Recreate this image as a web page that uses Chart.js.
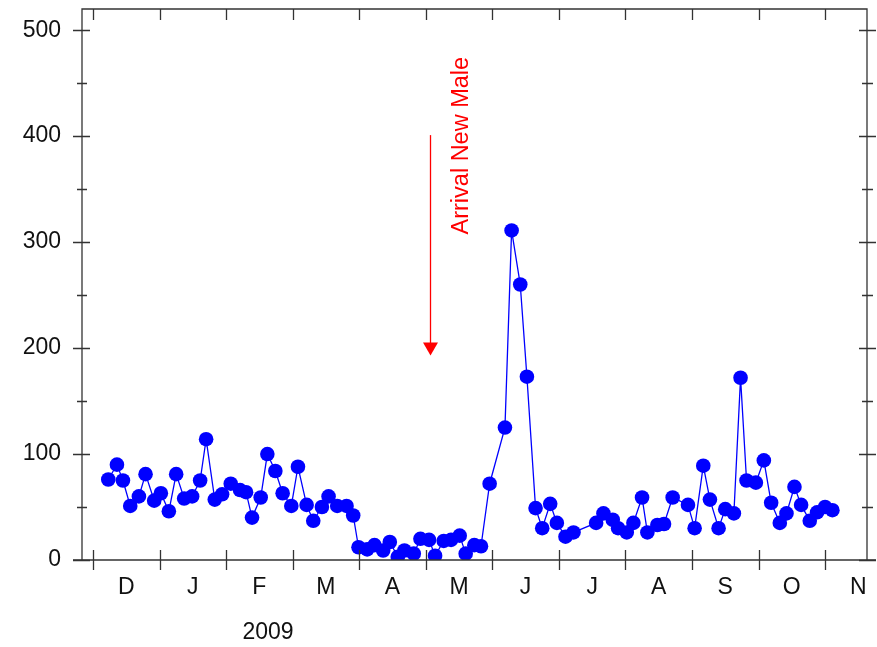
<!DOCTYPE html>
<html>
<head>
<meta charset="utf-8">
<title>Counts 2008-2009</title>
<script src="https://cdn.jsdelivr.net/npm/chart.js@4.4.1/dist/chart.umd.min.js"></script>
<style>
  body { margin: 0; background: #fff; }
  #wrap { width: 877px; height: 647px; }
</style>
</head>
<body>
<div id="wrap"><canvas id="countChart"></canvas></div>
<script>
// Sampling times, in months counted from 1 December 2008
const sampleMonths = [
  0.23, 0.36, 0.45, 0.56, 0.69, 0.79, 0.92, 1.02, 1.14, 1.25,
  1.37, 1.49, 1.61, 1.70, 1.83, 1.94, 2.07, 2.21, 2.30, 2.39,
  2.52, 2.62, 2.74, 2.85, 2.98, 3.08, 3.21, 3.31, 3.44, 3.54,
  3.67, 3.81, 3.91, 3.99, 4.12, 4.23, 4.36, 4.46, 4.58, 4.68,
  4.82, 4.92, 5.05, 5.14, 5.27, 5.38, 5.51, 5.60, 5.73, 5.83,
  5.96, 6.19, 6.29, 6.42, 6.52, 6.65, 6.75, 6.87, 6.97, 7.10,
  7.22, 7.56, 7.67, 7.81, 7.89, 8.02, 8.12, 8.25, 8.33, 8.48,
  8.58, 8.71, 8.94, 9.04, 9.17, 9.27, 9.40, 9.50, 9.63, 9.73,
  9.82, 9.96, 10.08, 10.19, 10.32, 10.42, 10.54, 10.64, 10.77, 10.88,
  11.00, 11.11
];
const counts = [
  76, 90, 75, 51, 60, 81, 56, 63, 46, 81,
  58, 60, 75, 114, 57, 62, 72, 66, 64, 40,
  59, 100, 84, 63, 51, 88, 52, 37, 50, 60,
  51, 51, 42, 12, 10, 14, 9, 17, 3, 9,
  6, 20, 19, 4, 18, 19, 23, 6, 14, 13,
  72, 125, 311, 260, 173, 49, 30, 53, 35, 22,
  26, 35, 44, 38, 30, 26, 35, 59, 26, 33,
  34, 59, 52, 30, 89, 57, 30, 48, 44, 172,
  75, 73, 94, 54, 35, 44, 69, 52, 37, 45,
  50, 47
];
const monthLabels = ['D', 'J', 'F', 'M', 'A', 'M', 'J', 'J', 'A', 'S', 'O', 'N'];
const yTicks = [0, 100, 200, 300, 400, 500];
const yMinorTicks = [50, 150, 250, 350, 450];
const yearLabel = '2009';

// arrow marking the arrival of the new male
const arrivalText = 'Arrival New Male';
const arrivalMonth = 5.06;
const arrivalTop = 401;
const arrivalTip = 193;

const FONT = '"Liberation Sans", Arial, sans-serif';
const INK = '#111';
const RED = '#ff0000';

const framePlugin = {
  id: 'frame',
  afterDraw(chart) {
    const { ctx, chartArea: a, scales: { x, y } } = chart;
    ctx.save();
    ctx.strokeStyle = '#333';
    ctx.lineWidth = 1.3;

    // box
    ctx.beginPath();
    ctx.moveTo(a.left, a.bottom);
    ctx.lineTo(a.left, a.top);
    ctx.lineTo(a.right, a.top);
    ctx.lineTo(a.right, a.bottom);
    ctx.moveTo(a.left - 9, a.bottom);
    ctx.lineTo(a.right + 9, a.bottom);
    ctx.stroke();

    // month boundaries: crossing ticks at the bottom, inward ticks at the top
    ctx.beginPath();
    for (let m = 0; m < monthLabels.length; m++) {
      const px = Math.round(x.getPixelForValue(m)) + 0.5;
      ctx.moveTo(px, a.bottom - 10);
      ctx.lineTo(px, a.bottom + 10);
      ctx.moveTo(px, a.top);
      ctx.lineTo(px, a.top + 11);
    }
    // value ticks on both sides
    yTicks.forEach(v => {
      const py = Math.round(y.getPixelForValue(v)) + 0.5;
      ctx.moveTo(a.left - 9, py);
      ctx.lineTo(a.left + 8, py);
      ctx.moveTo(a.right - 8, py);
      ctx.lineTo(a.right + 9, py);
    });
    yMinorTicks.forEach(v => {
      const py = Math.round(y.getPixelForValue(v)) + 0.5;
      ctx.moveTo(a.left - 5, py);
      ctx.lineTo(a.left + 5, py);
      ctx.moveTo(a.right - 5, py);
      ctx.lineTo(a.right + 6, py);
    });
    ctx.stroke();

    // year under the month letters
    ctx.fillStyle = INK;
    ctx.font = '23px ' + FONT;
    ctx.textAlign = 'center';
    ctx.textBaseline = 'middle';
    ctx.fillText(yearLabel, x.getPixelForValue(2.63), a.bottom + 73);

    // arrival arrow
    const ax = Math.round(x.getPixelForValue(arrivalMonth)) + 0.5;
    const yTop = y.getPixelForValue(arrivalTop);
    const yTip = y.getPixelForValue(arrivalTip);
    ctx.strokeStyle = RED;
    ctx.fillStyle = RED;
    ctx.lineWidth = 1.3;
    ctx.beginPath();
    ctx.moveTo(ax, yTop);
    ctx.lineTo(ax, yTip - 12);
    ctx.stroke();
    ctx.beginPath();
    ctx.moveTo(ax - 7.5, yTip - 13);
    ctx.lineTo(ax + 7.5, yTip - 13);
    ctx.lineTo(ax, yTip);
    ctx.closePath();
    ctx.fill();

    ctx.translate(x.getPixelForValue(5.54), y.getPixelForValue(391));
    ctx.rotate(-Math.PI / 2);
    ctx.font = '23.5px ' + FONT;
    ctx.fillText(arrivalText, 0, 0);
    ctx.restore();
  }
};

const points = sampleMonths.map((m, i) => ({ x: m, y: counts[i] }));

new Chart(document.getElementById('countChart'), {
  type: 'line',
  data: {
    datasets: [{
      data: points,
      borderColor: '#0000ff',
      backgroundColor: '#0000ff',
      borderWidth: 1.3,
      pointRadius: 7.3,
      pointHoverRadius: 7.3,
      pointBorderWidth: 0,
      tension: 0
    }]
  },
  options: {
    responsive: true,
    maintainAspectRatio: false,
    animation: false,
    events: [],
    layout: { padding: { top: 9, right: 10, left: 0, bottom: 0 } },
    plugins: {
      legend: { display: false },
      tooltip: { enabled: false }
    },
    scales: {
      x: {
        type: 'linear',
        min: -0.165,
        max: 11.63,
        grid: { display: false, drawTicks: false },
        border: { display: false },
        afterBuildTicks: s => { s.ticks = monthLabels.map((_, i) => ({ value: i + 0.5 })); },
        ticks: {
          autoSkip: false,
          maxRotation: 0,
          padding: 14,
          color: INK,
          font: { size: 23, family: FONT },
          callback: (v, i) => monthLabels[i]
        },
        afterFit: s => {
          s.height = 87;
          s.paddingLeft = s.paddingRight = 0;
        }
      },
      y: {
        min: 0,
        max: 520,
        grid: { display: false, drawTicks: false },
        border: { display: false },
        afterBuildTicks: s => { s.ticks = yTicks.map(v => ({ value: v })); },
        ticks: {
          padding: 21,
          color: INK,
          font: { size: 23, family: FONT }
        },
        afterFit: s => {
          s.width = 82;
          s.paddingTop = s.paddingBottom = 0;
        }
      }
    }
  },
  plugins: [framePlugin]
});
</script>
</body>
</html>
